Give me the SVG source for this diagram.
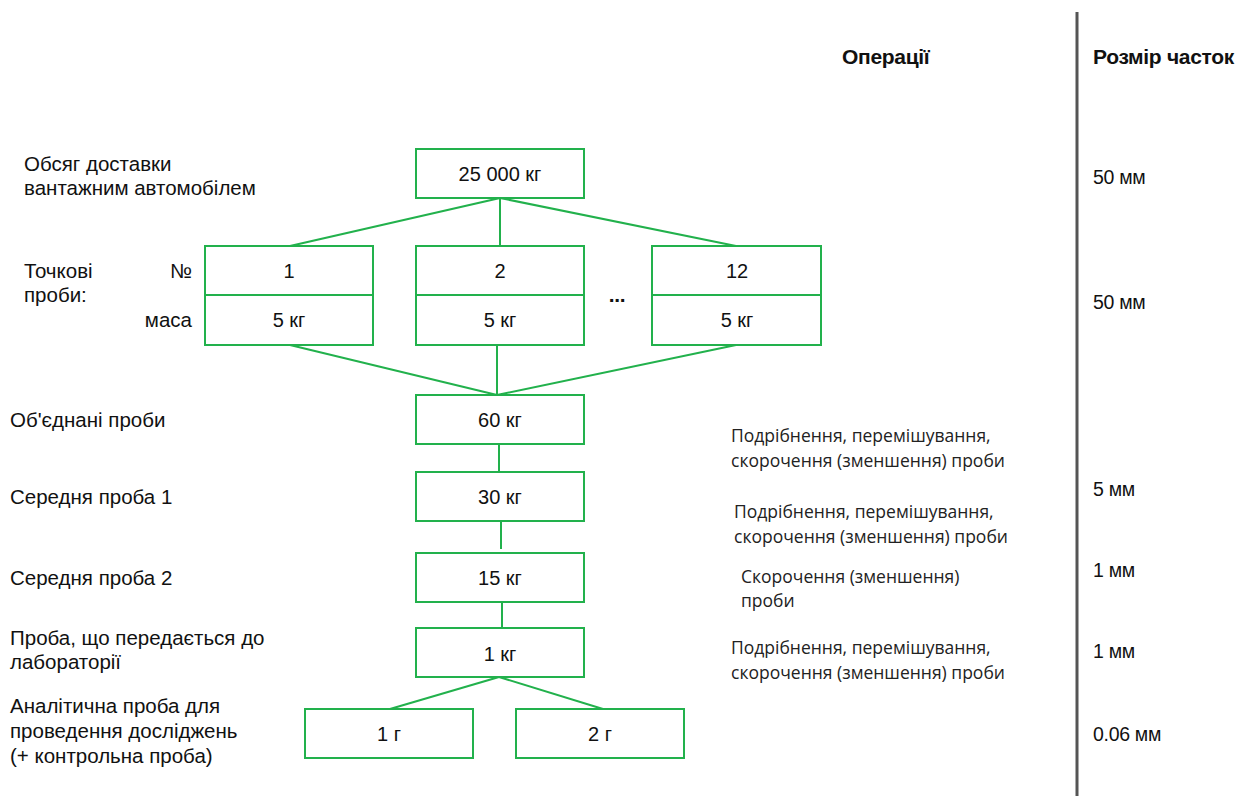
<svg xmlns="http://www.w3.org/2000/svg" width="1250" height="796" viewBox="0 0 1250 796">
<style>
.box{fill:#fff;stroke:#22b14c;stroke-width:2}
.con line{stroke:#22b14c;stroke-width:2}
.t{font-family:"Liberation Sans",Arial,sans-serif;font-size:19.5px;fill:#111;letter-spacing:-0.3px}
.l{font-size:20.5px;letter-spacing:0}
.n{font-size:20px;letter-spacing:0}
.c{text-anchor:middle}
.r{text-anchor:end}
.b{font-weight:bold;font-size:21px}
.op{font-family:"Open Sans","Noto Sans",sans-serif;font-size:17.5px;fill:#222}
</style>
<rect width="1250" height="796" fill="#fff"/>
<line x1="1077" y1="12" x2="1077" y2="796" stroke="#555" stroke-width="3"/>
<text class="t b" x="842" y="64">Операції</text>
<text class="t b" x="1093" y="64">Розмір часток</text>

<g class="con">
<line x1="500" y1="198" x2="290" y2="246"/>
<line x1="500" y1="198" x2="500" y2="246"/>
<line x1="500" y1="198" x2="736" y2="246"/>
<line x1="290" y1="345" x2="497" y2="395"/>
<line x1="497" y1="345" x2="497" y2="395"/>
<line x1="736" y1="345" x2="497" y2="395"/>
<line x1="499" y1="444" x2="499" y2="472"/>
<line x1="501" y1="521" x2="501" y2="549"/>
<line x1="502" y1="602" x2="502" y2="628"/>
<line x1="499" y1="677" x2="390" y2="709"/>
<line x1="499" y1="677" x2="603" y2="709"/>
</g>

<g id="n-total"><rect class="box" x="416" y="149" width="168" height="49"/><text class="t n c" x="500" y="181">25 000 кг</text></g>
<g id="n-p1"><rect class="box" x="205" y="246" width="168" height="99"/><line x1="205" y1="295" x2="373" y2="295" stroke="#22b14c" stroke-width="2"/><text class="t n c" x="289" y="278">1</text><text class="t n c" x="289" y="327">5 кг</text></g>
<g id="n-p2"><rect class="box" x="416" y="246" width="168" height="99"/><line x1="416" y1="295" x2="584" y2="295" stroke="#22b14c" stroke-width="2"/><text class="t n c" x="500" y="278">2</text><text class="t n c" x="500" y="327">5 кг</text></g>
<g id="n-p12"><rect class="box" x="652" y="246" width="169" height="99"/><line x1="652" y1="295" x2="821" y2="295" stroke="#22b14c" stroke-width="2"/><text class="t n c" x="737" y="278">12</text><text class="t n c" x="737" y="327">5 кг</text></g>
<text class="t c b" x="617" y="302">...</text>
<g id="n-60"><rect class="box" x="416" y="395" width="168" height="49"/><text class="t n c" x="500" y="427">60 кг</text></g>
<g id="n-30"><rect class="box" x="416" y="472" width="168" height="49"/><text class="t n c" x="500" y="504">30 кг</text></g>
<g id="n-15"><rect class="box" x="416" y="553" width="168" height="49"/><text class="t n c" x="500" y="585">15 кг</text></g>
<g id="n-1kg"><rect class="box" x="416" y="628" width="168" height="49"/><text class="t n c" x="500" y="661">1 кг</text></g>
<g id="n-1g"><rect class="box" x="305" y="709" width="168" height="49"/><text class="t n c" x="389" y="741">1 г</text></g>
<g id="n-2g"><rect class="box" x="516" y="709" width="168" height="49"/><text class="t n c" x="600" y="741">2 г</text></g>

<g id="labels">
<text class="t l" x="24" y="171">Обсяг доставки</text>
<text class="t l" x="24" y="195">вантажним автомобілем</text>
<text class="t l" x="24" y="278">Точкові</text>
<text class="t l" x="24" y="302">проби:</text>
<text class="t l r" x="192" y="278">№</text>
<text class="t l r" x="192" y="327">маса</text>
<text class="t l" x="10" y="427">Об'єднані проби</text>
<text class="t l" x="10" y="504">Середня проба 1</text>
<text class="t l" x="10" y="585">Середня проба 2</text>
<text class="t l" x="10" y="645">Проба, що передається до</text>
<text class="t l" x="10" y="669">лабораторії</text>
<text class="t l" x="10" y="713">Аналітична проба для</text>
<text class="t l" x="10" y="738">проведення досліджень</text>
<text class="t l" x="10" y="763">(+ контрольна проба)</text>
</g>

<g id="ops">
<text class="op" x="731" y="442">Подрібнення, перемішування,</text>
<text class="op" x="731" y="467">скорочення (зменшення) проби</text>
<text class="op" x="734" y="518">Подрібнення, перемішування,</text>
<text class="op" x="734" y="543">скорочення (зменшення) проби</text>
<text class="op" x="741" y="583">Скорочення (зменшення)</text>
<text class="op" x="741" y="607">проби</text>
<text class="op" x="731" y="654">Подрібнення, перемішування,</text>
<text class="op" x="731" y="679">скорочення (зменшення) проби</text>
</g>

<g id="sizes">
<text class="t" x="1093" y="184">50 мм</text>
<text class="t" x="1093" y="309">50 мм</text>
<text class="t" x="1093" y="496">5 мм</text>
<text class="t" x="1093" y="577">1 мм</text>
<text class="t" x="1093" y="658">1 мм</text>
<text class="t" x="1093" y="741">0.06 мм</text>
</g>
</svg>
